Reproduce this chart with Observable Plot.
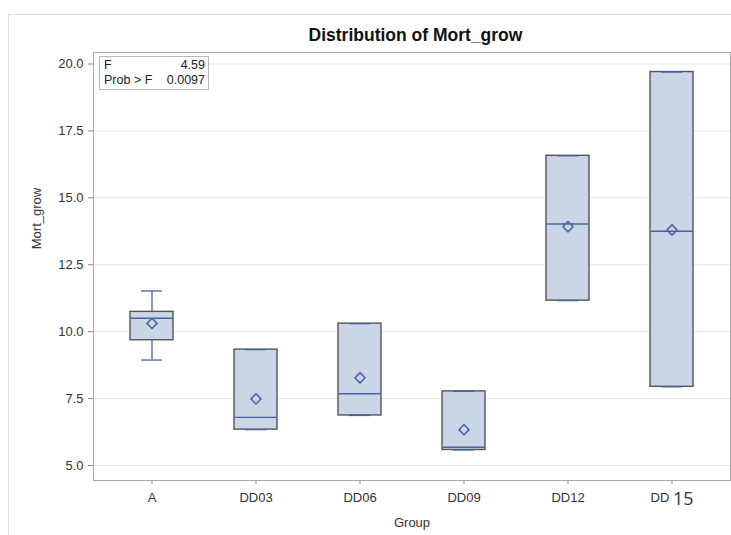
<!DOCTYPE html>
<html>
<head>
<meta charset="utf-8">
<script src="https://cdn.jsdelivr.net/npm/d3@7"></script>
<script src="https://cdn.jsdelivr.net/npm/@observablehq/plot@0.6"></script>
<style>
  body { margin: 0; background: #fff; font-family: "Liberation Sans", Arial, sans-serif; }
  #wrap { position: relative; width: 731px; height: 535px; overflow: hidden; }
  #outer { position: absolute; left: 8px; top: 14px; width: 760px; height: 560px; border: 1px solid #dcdcdc; }
  #chart { position: absolute; left: 0; top: 0; }
  #title { position: absolute; left: 97px; width: 637px; top: 25px; text-align: center;
           font-weight: bold; font-size: 17.5px; color: #111; }
  #stats { position: absolute; left: 99px; top: 56px; width: 110px; height: 34px;
           border: 1px solid #b8b8b8; background: #fff; font-size: 12.5px; color: #222;
           box-sizing: border-box; padding: 1px 3px 0 4px; line-height: 15px; }
  #stats div { display: flex; justify-content: space-between; }
</style>
</head>
<body>
<div id="wrap">
  <div id="outer"></div>
  <div id="chart"></div>
  <div id="title">Distribution of Mort_grow</div>
  <div id="stats">
    <div><span>F</span><span>4.59</span></div>
    <div><span>Prob &gt; F</span><span>0.0097</span></div>
  </div>
</div>
<script>
// Group summaries of Mort_grow
const groups  = ["A", "DD03", "DD06", "DD09", "DD12", "DD 15"];
const minVals = [8.94, 6.34, 6.87, 5.58, 11.16, 7.94];
const q1Vals  = [9.68, 6.34, 6.87, 5.58, 11.16, 7.94];
const medians = [10.50, 6.80, 7.68, 5.68, 14.02, 13.75];
const q3Vals  = [10.74, 9.33, 10.30, 7.77, 16.57, 19.70];
const maxVals = [11.52, 9.33, 10.30, 7.77, 16.57, 19.70];
const means   = [10.31, 7.49, 8.28, 6.34, 13.92, 13.80];
const yTicks  = [5.0, 7.5, 10.0, 12.5, 15.0, 17.5, 20.0];

const rows = groups.map((g, i) => ({
  group: g, min: minVals[i], q1: q1Vals[i], median: medians[i],
  q3: q3Vals[i], max: maxVals[i], mean: means[i]
}));

const blue = "#4563a5";
const boxFill = "#cad5e6";
const boxStroke = "#545454";

const chart = Plot.plot({
  width: 731,
  height: 535,
  marginLeft: 93,
  marginRight: 1,
  marginTop: 52,
  marginBottom: 55,
  style: { fontFamily: "Liberation Sans, Arial, sans-serif", fontSize: "13px", color: "#333", background: "transparent" },
  x: { type: "band", domain: groups, paddingInner: 0.59, paddingOuter: 0.346 },
  y: { domain: [4.44, 20.43] },
  marks: [
    Plot.gridY(yTicks, { stroke: "#e6e6e6", strokeOpacity: 1 }),
    Plot.ruleX(rows, { x: "group", y1: "min", y2: "q1", stroke: blue, strokeWidth: 1.3 }),
    Plot.ruleX(rows, { x: "group", y1: "q3", y2: "max", stroke: blue, strokeWidth: 1.3 }),
    Plot.barY(rows, { x: "group", y1: "q1", y2: "q3", fill: boxFill, stroke: boxStroke, strokeWidth: 1.4 }),
    Plot.tickY(rows, { x: "group", y: "min", stroke: blue, strokeWidth: 1.3, insetLeft: 11, insetRight: 11 }),
    Plot.tickY(rows, { x: "group", y: "max", stroke: blue, strokeWidth: 1.3, insetLeft: 11, insetRight: 11 }),
    Plot.tickY(rows, { x: "group", y: "median", stroke: blue, strokeWidth: 1.4, insetLeft: 0.7, insetRight: 0.7 }),
    Plot.dot(rows, { x: "group", y: "mean", symbol: "diamond2", r: 4.6, stroke: blue, strokeWidth: 1.5, fill: "none" }),
    Plot.axisY(yTicks, {
      tickFormat: d3.format(".1f"), tickSize: 5, tickPadding: 5, stroke: "#888",
      label: "Mort_grow", labelAnchor: "center", labelOffset: 62, labelArrow: "none"
    }),
    Plot.axisX({
      tickSize: 4, tickPadding: 8, stroke: "#888",
      label: "Group", labelAnchor: "center", labelOffset: 46, labelArrow: "none"
    }),
    Plot.frame({ stroke: "#a8a8a8" })
  ]
});

document.getElementById("chart").appendChild(chart);

d3.select(chart).selectAll("text").each(function () {
  const t = d3.select(this);
  // The last group label is drawn with a larger "15"
  if (this.textContent === "DD 15") {
    t.text(null);
    t.append("tspan").text("DD ");
    t.append("tspan").text("15").style("font-family", "'Open Sans', 'Noto Sans', sans-serif").style("font-size", "18px").attr("dy", "3");
  }
  // Raise the y-axis title a little above the axis centre
  if (this.textContent === "Mort_grow") {
    t.attr("dx", 48);
  }
});
</script>
</body>
</html>
